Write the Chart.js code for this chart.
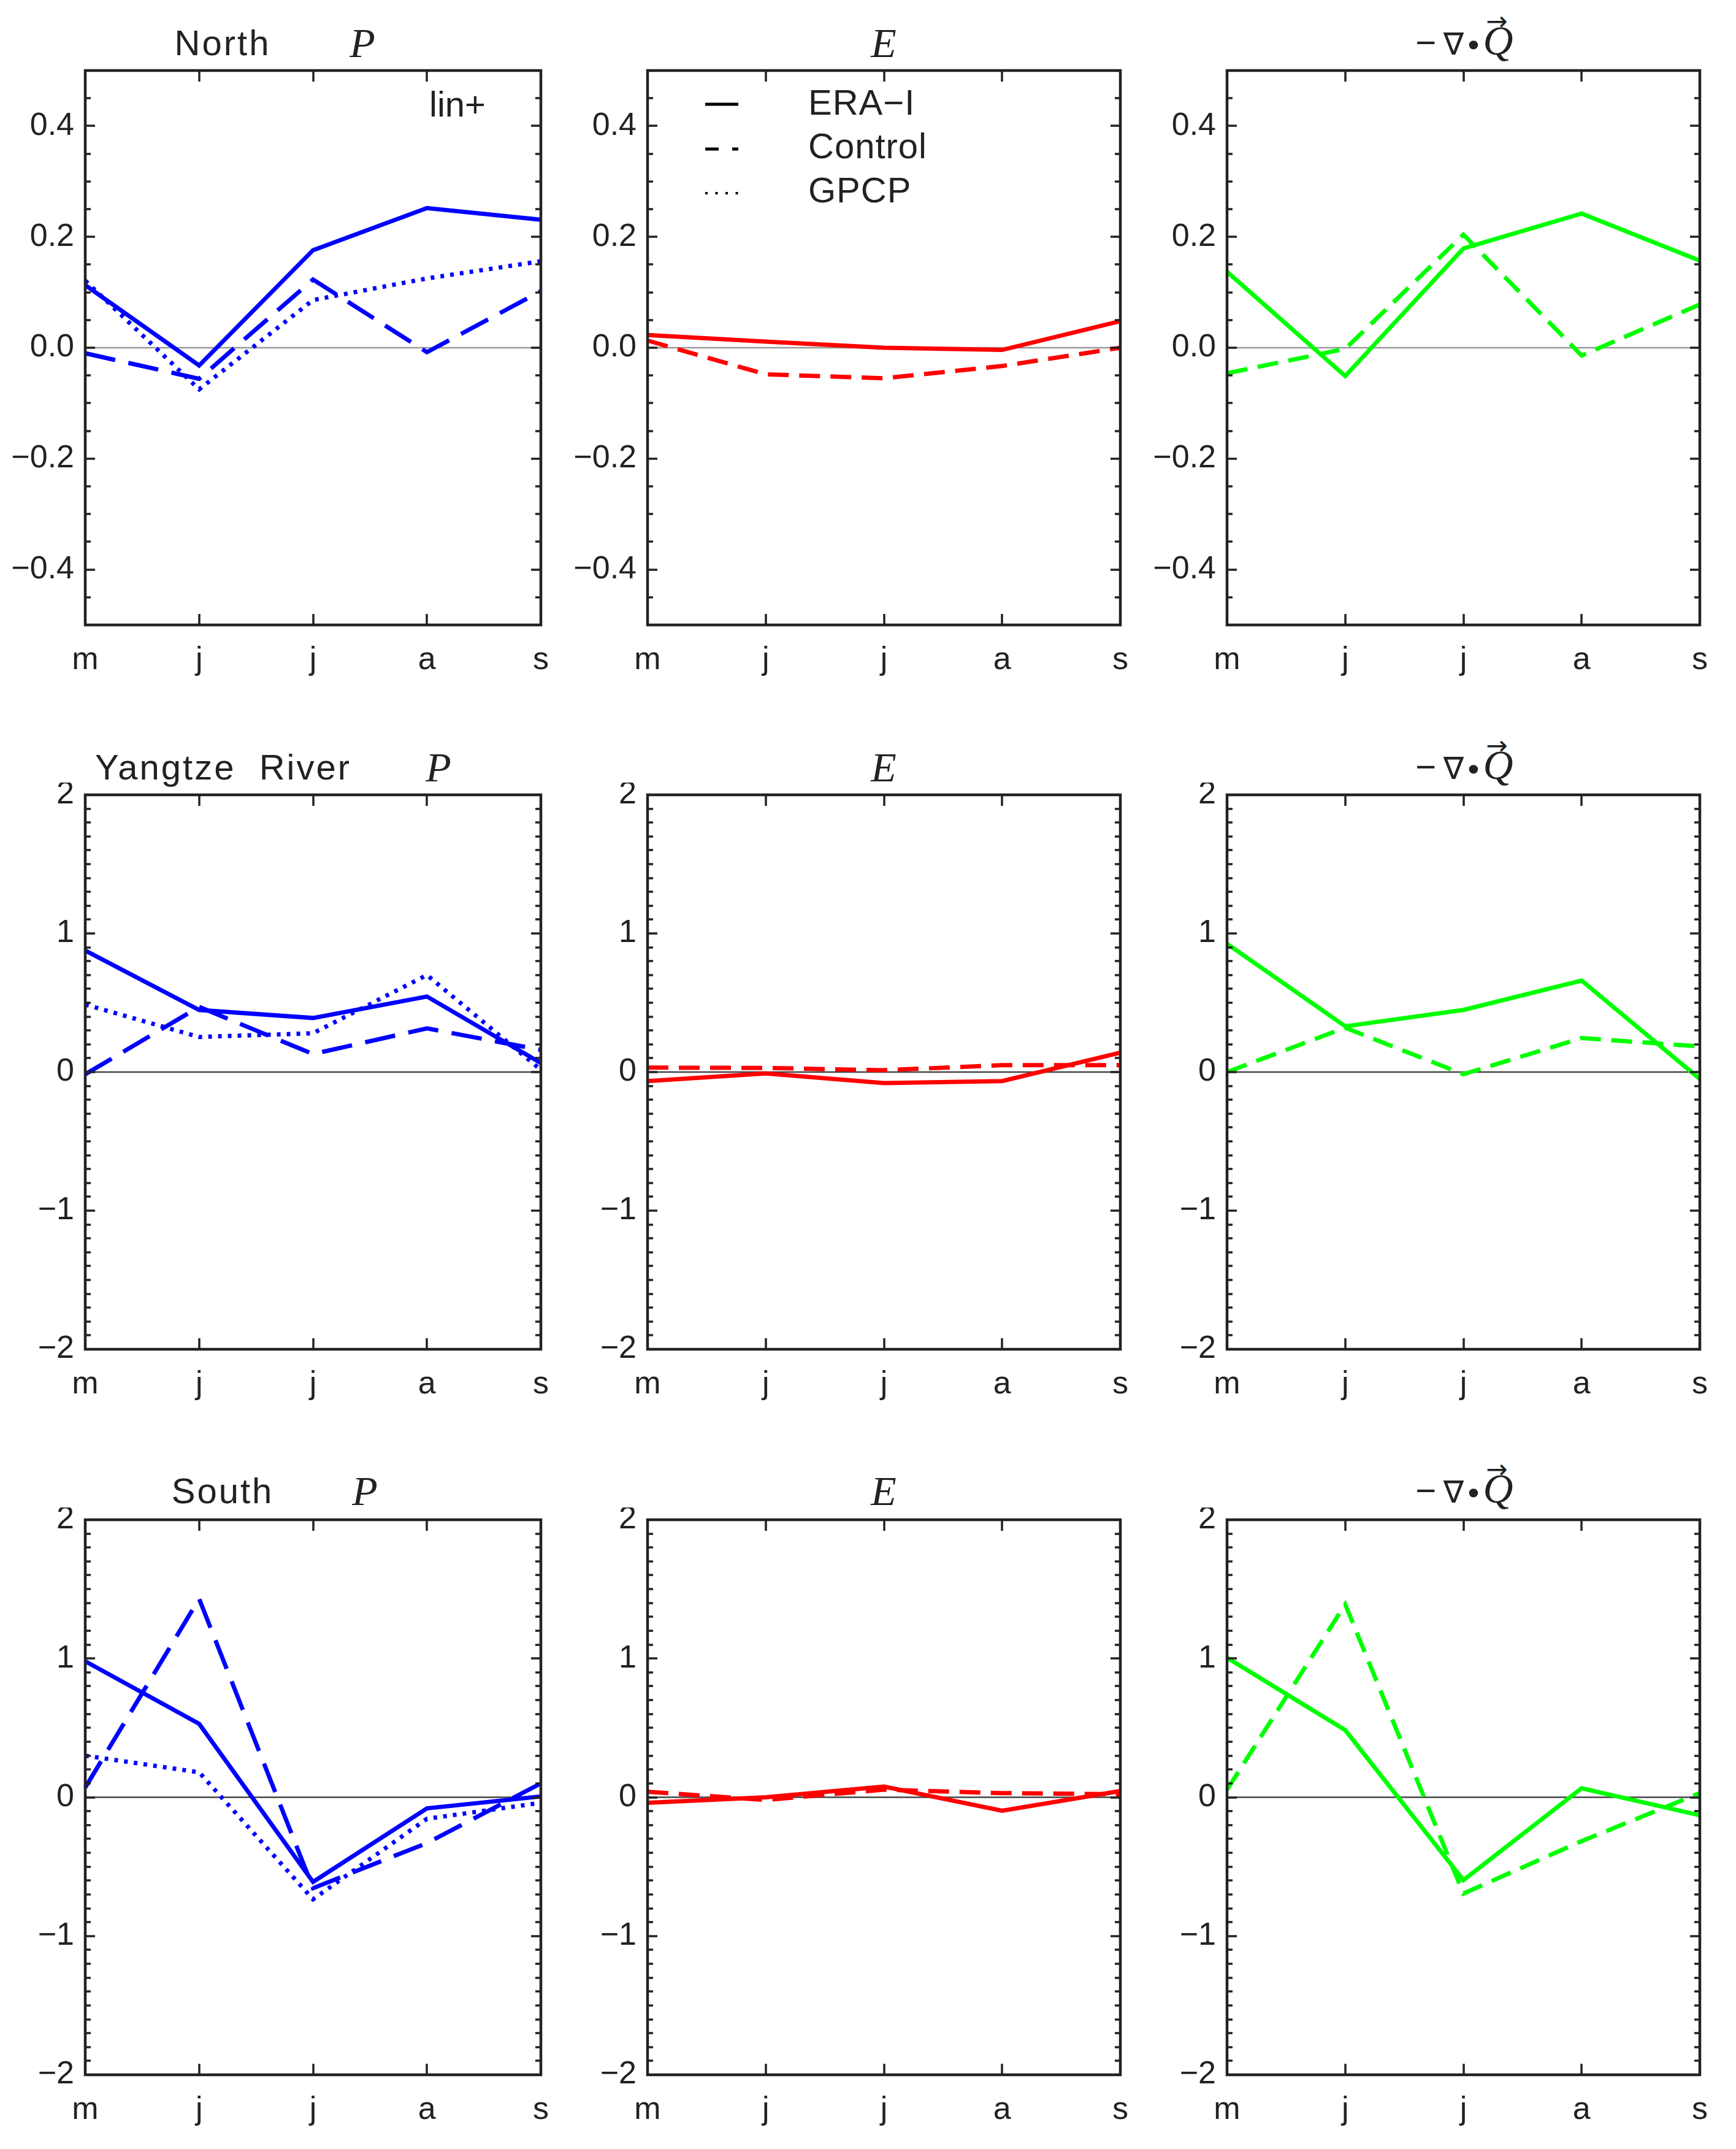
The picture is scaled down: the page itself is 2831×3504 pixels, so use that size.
<!DOCTYPE html>
<html>
<head>
<meta charset="utf-8">
<script src="https://cdn.jsdelivr.net/npm/chart.js@4.4.1/dist/chart.umd.min.js"></script>
<style>
body { margin: 0; background: #fff; }
#page { position: relative; width: 2831px; height: 3504px; overflow: hidden; background: #fff; }
#page canvas { position: absolute; }
.t { position: absolute; transform: translate(-50%, -50%); white-space: nowrap; line-height: 1;
     color: #222; font-family: "Liberation Sans", Arial, sans-serif; font-size: 58px; }
.r { letter-spacing: 3px; }
.l { position: absolute; transform: translate(0, -50%); white-space: nowrap; line-height: 1;
     color: #222; font-family: "Liberation Sans", Arial, sans-serif; font-size: 58px; letter-spacing: 1px; }
.m { font-family: "Liberation Serif", "DejaVu Serif", serif; font-style: italic; font-size: 68px; }
.nab { font-family: "DejaVu Sans", sans-serif; font-size: 50px; }
.vq { position: relative; display: inline-block; font-family: "Liberation Serif", "DejaVu Serif", serif;
      font-style: italic; font-size: 68px; }
.vq .arr { position: absolute; left: 0.12em; top: -0.42em; font-size: 0.62em; font-style: normal;
           font-family: "DejaVu Sans", sans-serif; }
</style>
</head>
<body>
<div id="page">
  <!-- row titles -->
  <div class="t r" style="left:363px;top:70px">North</div>
  <div class="t m" style="left:591px;top:70px">P</div>
  <div class="t" style="left:1441px;top:70px"><span class="m">E</span></div>
  <div class="t" style="left:2388px;top:66px">−&thinsp;<span class="nab">∇∙</span><span class="vq">Q<span class="arr">→</span></span></div>
  <div class="t" style="left:746px;top:170px">lin+</div>

  <div class="t r" style="left:364px;top:1251px">Yangtze&nbsp; River</div>
  <div class="t m" style="left:715px;top:1251px">P</div>
  <div class="t" style="left:1441px;top:1251px"><span class="m">E</span></div>
  <div class="t" style="left:2388px;top:1247px">−&thinsp;<span class="nab">∇∙</span><span class="vq">Q<span class="arr">→</span></span></div>

  <div class="t r" style="left:363px;top:2431px">South</div>
  <div class="t m" style="left:595px;top:2431px">P</div>
  <div class="t" style="left:1441px;top:2431px"><span class="m">E</span></div>
  <div class="t" style="left:2388px;top:2427px">−&thinsp;<span class="nab">∇∙</span><span class="vq">Q<span class="arr">→</span></span></div>

  <!-- legend text -->
  <div class="l" style="left:1318px;top:167px">ERA−I</div>
  <div class="l" style="left:1318px;top:238px">Control</div>
  <div class="l" style="left:1318px;top:310px">GPCP</div>
</div>
<script>
// months on the x axis
var months = ['m', 'j', 'j', 'a', 's'];

// y tick labels
var northTicks = [-0.4, -0.2, 0.0, 0.2, 0.4];
var regionTicks = [-2, -1, 0, 1, 2];

// North
var northP_era  = [0.113, -0.032, 0.176, 0.252, 0.231];
var northP_ctl  = [-0.010, -0.056, 0.123, -0.008, 0.102];
var northP_gpcp = [0.121, -0.075, 0.086, 0.125, 0.156];
var northE_era  = [0.023, 0.011, 0.000, -0.004, 0.048];
var northE_ctl  = [0.013, -0.048, -0.055, -0.033, 0.000];
var northQ_era  = [0.137, -0.051, 0.179, 0.242, 0.157];
var northQ_ctl  = [-0.046, -0.002, 0.204, -0.014, 0.078];

// Yangtze River
var yangtzeP_era  = [0.877, 0.448, 0.390, 0.545, 0.065];
var yangtzeP_ctl  = [-0.016, 0.470, 0.130, 0.315, 0.160];
var yangtzeP_gpcp = [0.487, 0.253, 0.280, 0.700, 0.016];
var yangtzeE_era  = [-0.065, -0.010, -0.080, -0.065, 0.140];
var yangtzeE_ctl  = [0.032, 0.030, 0.013, 0.050, 0.050];
var yangtzeQ_era  = [0.925, 0.330, 0.448, 0.660, -0.050];
var yangtzeQ_ctl  = [0.000, 0.320, -0.016, 0.245, 0.185];

// South
var southP_era  = [0.980, 0.530, -0.610, -0.080, 0.006];
var southP_ctl  = [0.070, 1.430, -0.655, -0.330, 0.100];
var southP_gpcp = [0.300, 0.180, -0.735, -0.155, -0.040];
var southE_era  = [-0.040, 0.000, 0.077, -0.097, 0.045];
var southE_ctl  = [0.040, -0.020, 0.055, 0.030, 0.022];
var southQ_era  = [1.006, 0.484, -0.597, 0.065, -0.130];
var southQ_ctl  = [0.055, 1.390, -0.694, -0.316, 0.030];


var blue = '#0000ff', red = '#ff0000', green = '#00ff00';
var solid = [], ctlBlue = [50, 22], ctlRG = [34, 17], dots = [6, 10];
var sans = '"Liberation Sans", Arial, sans-serif';
var ink = '#222';

var cols = [
    {left: 139, width: 743},
    {left: 1056, width: 771},
    {left: 2001, width: 771}
];
var rows = [
    {top: 115, height: 904, min: -0.5, max: 0.5, ticks: northTicks, minor: 0.05, dec: 1, zero: '#999'},
    {top: 1296, height: 904, min: -2, max: 2, ticks: regionTicks, minor: 0.1, dec: 0, zero: '#444'},
    {top: 2478, height: 905, min: -2, max: 2, ticks: regionTicks, minor: 0.1, dec: 0, zero: '#444'}
];

// [row, col, series]
var panels = [
    [0, 0, [[northP_era, blue, solid], [northP_ctl, blue, ctlBlue], [northP_gpcp, blue, dots]]],
    [0, 1, [[northE_era, red, solid], [northE_ctl, red, ctlRG]]],
    [0, 2, [[northQ_era, green, solid], [northQ_ctl, green, ctlRG]]],
    [1, 0, [[yangtzeP_era, blue, solid], [yangtzeP_ctl, blue, ctlBlue], [yangtzeP_gpcp, blue, dots]]],
    [1, 1, [[yangtzeE_era, red, solid], [yangtzeE_ctl, red, ctlRG]]],
    [1, 2, [[yangtzeQ_era, green, solid], [yangtzeQ_ctl, green, ctlRG]]],
    [2, 0, [[southP_era, blue, solid], [southP_ctl, blue, ctlBlue], [southP_gpcp, blue, dots]]],
    [2, 1, [[southE_era, red, solid], [southE_ctl, red, ctlRG]]],
    [2, 2, [[southQ_era, green, solid], [southQ_ctl, green, ctlRG]]]
];


// IDL style box: zero line, frame, inward ticks, legend samples
var idlFrame = {
    id: 'idlFrame',
    beforeDatasetsDraw: function (chart, args, opts) {
        var a = chart.chartArea, ctx = chart.ctx;
        var y0 = chart.scales.y.getPixelForValue(0);
        ctx.save();
        ctx.strokeStyle = opts.row.zero;
        ctx.lineWidth = 2.5;
        ctx.beginPath();
        ctx.moveTo(a.left, y0);
        ctx.lineTo(a.right, y0);
        ctx.stroke();
        ctx.restore();
    },
    afterDatasetsDraw: function (chart, args, opts) {
        var a = chart.chartArea, ctx = chart.ctx;
        var ys = chart.scales.y, xs = chart.scales.x;
        var r = opts.row;
        ctx.save();
        ctx.strokeStyle = ink;
        ctx.lineWidth = 3.5;
        ctx.setLineDash([]);
        ctx.beginPath();
        var n = Math.round((r.max - r.min) / r.minor);
        for (var i = 1; i < n; i++) {
            var v = r.min + i * r.minor;
            var major = r.ticks.some(function (t) { return Math.abs(t - v) < 1e-6; });
            var len = major ? 16 : 9;
            var py = Math.round(ys.getPixelForValue(v));
            ctx.moveTo(a.left, py); ctx.lineTo(a.left + len, py);
            ctx.moveTo(a.right, py); ctx.lineTo(a.right - len, py);
        }
        for (var k = 1; k < months.length - 1; k++) {
            var px = Math.round(xs.getPixelForValue(k));
            ctx.moveTo(px, a.top); ctx.lineTo(px, a.top + 18);
            ctx.moveTo(px, a.bottom); ctx.lineTo(px, a.bottom - 18);
        }
        ctx.stroke();
        ctx.lineWidth = 4.5;
        ctx.strokeRect(a.left, a.top, a.right - a.left, a.bottom - a.top);

        if (opts.legend) {
            var lx = a.left + 94, w = 54;
            ctx.strokeStyle = '#000';
            ctx.lineWidth = 5;
            ctx.beginPath();
            ctx.moveTo(lx, a.top + 55); ctx.lineTo(lx + w, a.top + 55);
            ctx.stroke();
            ctx.setLineDash([22, 22, 10, 100]);
            ctx.beginPath();
            ctx.moveTo(lx, a.top + 128); ctx.lineTo(lx + w, a.top + 128);
            ctx.stroke();
            ctx.lineWidth = 4;
            ctx.setLineDash([4, 12.5]);
            ctx.beginPath();
            ctx.moveTo(lx, a.top + 200); ctx.lineTo(lx + w, a.top + 200);
            ctx.stroke();
        }
        ctx.restore();
    }
};

// fixed axis boxes so every plot area lands where the figure has it
function fixBox(s, size) {
    if (s.isHorizontal()) s.height = size; else s.width = size;
    s.paddingTop = 0; s.paddingBottom = 0;
    s.paddingLeft = 0; s.paddingRight = 0;
}

var Y_W = 138, PAD_R = 20, PAD_T = 20, X_H = 100;
var page = document.getElementById('page');

panels.forEach(function (p) {
    var r = rows[p[0]], c = cols[p[1]];
    var cv = document.createElement('canvas');
    cv.width = Y_W + c.width + PAD_R;
    cv.height = PAD_T + r.height + X_H;
    cv.style.left = (c.left - Y_W) + 'px';
    cv.style.top = (r.top - PAD_T) + 'px';
    page.appendChild(cv);

    new Chart(cv, {
        type: 'line',
        data: {
            labels: months,
            datasets: p[2].map(function (s) {
                return {
                    data: s[0],
                    borderColor: s[1],
                    borderDash: s[2],
                    borderWidth: 7,
                    borderCapStyle: 'butt',
                    borderJoinStyle: 'miter',
                    pointRadius: 0,
                    fill: false,
                    tension: 0
                };
            })
        },
        options: {
            responsive: false,
            animation: false,
            devicePixelRatio: 1,
            layout: {padding: {left: 0, right: PAD_R, top: PAD_T, bottom: 0}},
            plugins: {
                legend: {display: false},
                tooltip: {enabled: false},
                idlFrame: {row: r, legend: p[0] === 0 && p[1] === 1}
            },
            scales: {
                x: {
                    type: 'category',
                    offset: false,
                    grid: {display: false, drawTicks: false},
                    border: {display: false},
                    ticks: {color: ink, font: {family: sans, size: 52}, padding: 26,
                            autoSkip: false, maxRotation: 0},
                    afterFit: function (s) { fixBox(s, X_H); }
                },
                y: {
                    min: r.min,
                    max: r.max,
                    grid: {display: false, drawTicks: false},
                    border: {display: false},
                    afterBuildTicks: function (s) {
                        s.ticks = r.ticks.map(function (v) { return {value: v}; });
                    },
                    ticks: {
                        color: ink,
                        font: {family: sans, size: 52},
                        padding: 18,
                        callback: function (v) {
                            if (Math.abs(v) < 1e-9) v = 0;
                            return v.toFixed(r.dec).replace('-', '−');
                        }
                    },
                    afterFit: function (s) { fixBox(s, Y_W); }
                }
            }
        },
        plugins: [idlFrame]
    });
});
</script>
</body>
</html>
